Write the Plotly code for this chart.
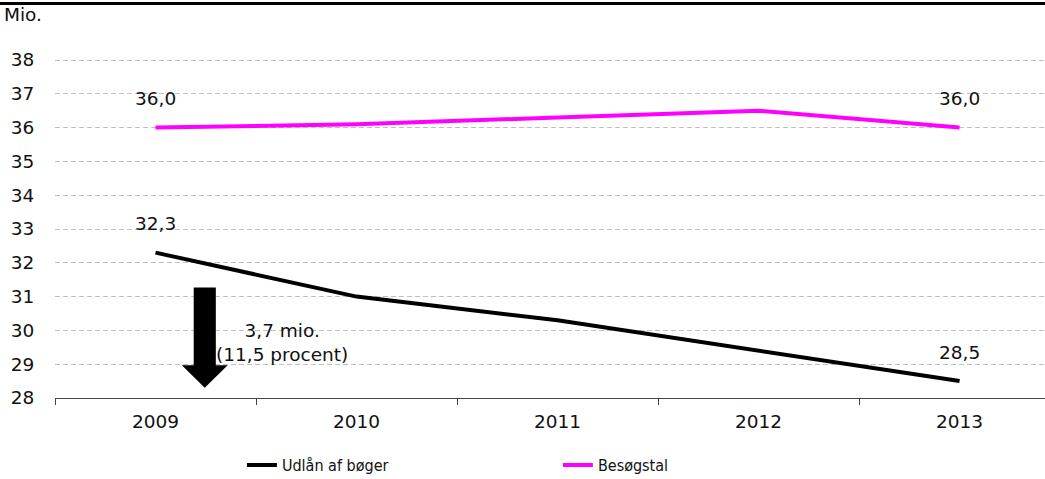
import plotly.graph_objects as go

# data (million)
years = ["2009", "2010", "2011", "2012", "2013"]
udlaan = [32.3, 31.0, 30.3, 29.4, 28.5]
besoeg = [36.0, 36.1, 36.3, 36.5, 36.0]
y_ticks = list(range(28, 39))

# arrow annotation for the fall in lending
arrow_x = 0.245
arrow_top, arrow_neck, arrow_tip = 31.27, 28.97, 28.3
shaft_w, head_w = 0.055, 0.114

FONT = "DejaVu Sans"
FS = 18.5

fig = go.Figure()
fig.add_trace(go.Scatter(x=years, y=udlaan, name="Udlån af bøger", mode="lines",
                         line=dict(color="black", width=4)))
fig.add_trace(go.Scatter(x=years, y=besoeg, name="Besøgstal", mode="lines",
                         line=dict(color="#FF00FF", width=4)))

# value labels at first and last year (category index on the x axis)
for series in (udlaan, besoeg):
    for i in (0, len(years) - 1):
        fig.add_annotation(x=i, y=series[i], xref="x", yref="y",
                           text=f"{series[i]:.1f}".replace(".", ","),
                           showarrow=False, yshift=29, font=dict(size=FS, color="#111"))

# thick down arrow
path = (f"M {arrow_x - shaft_w} {arrow_top} L {arrow_x + shaft_w} {arrow_top} "
        f"L {arrow_x + shaft_w} {arrow_neck} L {arrow_x + head_w} {arrow_neck} "
        f"L {arrow_x} {arrow_tip} L {arrow_x - head_w} {arrow_neck} "
        f"L {arrow_x - shaft_w} {arrow_neck} Z")
fig.add_shape(type="path", path=path, xref="x", yref="y",
              fillcolor="black", line=dict(width=0))
fig.add_annotation(x=0.63, y=29.65, xref="x", yref="y", text="3,7 mio.<br>(11,5 procent)",
                   showarrow=False, font=dict(size=FS, color="#111"), align="center")

# top rule and unit label
fig.add_shape(type="line", xref="paper", yref="paper", x0=-0.06, x1=1.0, y0=1.164, y1=1.164,
              line=dict(color="black", width=3))
fig.add_annotation(xref="paper", yref="paper", x=-0.0535, y=1.13, xanchor="left", yanchor="middle",
                   text="Mio.", showarrow=False, font=dict(size=FS, color="#111"))

fig.update_layout(
    width=1045, height=479,
    margin=dict(l=55, r=0, t=59, b=81),
    paper_bgcolor="white", plot_bgcolor="white",
    font=dict(family=FONT, size=FS, color="#111"),
    showlegend=True,
    legend=dict(orientation="h", xref="container", yref="container",
                x=0.2315, y=0.029, xanchor="left", yanchor="middle",
                entrywidth=271, entrywidthmode="pixels",
                font=dict(family="DejaVu Sans Condensed", size=16, color="#111")),
)
fig.update_xaxes(type="category", range=[-0.5, 4.425], tickson="boundaries",
                 ticks="outside", ticklen=6, tickcolor="#444", showline=True,
                 linecolor="#444", linewidth=1, showgrid=False, ticklabelstandoff=7)
fig.update_yaxes(range=[28, 38.03], tickvals=y_ticks, showline=False,
                 ticks="outside", ticklen=16, tickcolor="rgba(0,0,0,0)",
                 showgrid=True, gridcolor="#BFBFBF", griddash="5px,3px", gridwidth=1,
                 zeroline=False)

fig.write_html("out.html", config={"displayModeBar": False},
               post_script="document.body.style.margin='0';document.body.style.overflow='hidden';"
                           "document.documentElement.style.overflow='hidden';")
